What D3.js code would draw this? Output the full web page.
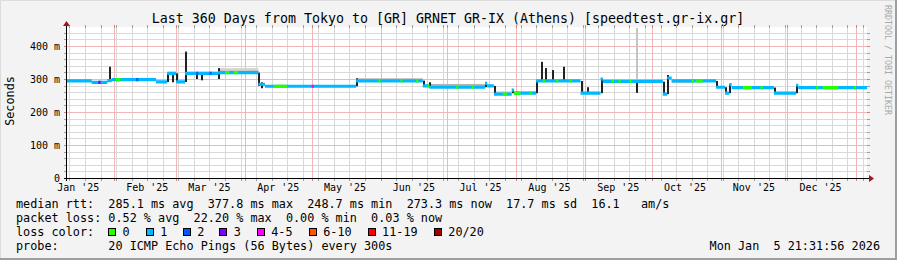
<!DOCTYPE html>
<html>
<head>
<meta charset="utf-8">
<script src="https://cdn.jsdelivr.net/npm/d3@7"></script>
<style>
  html, body { margin: 0; padding: 0; background: #f3f3f3; }
  svg text { font-family: 'DejaVu Sans Mono', monospace; white-space: pre; }
</style>
</head>
<body>
<div id="graph"></div>
<script>
// ---- values ----
const title = "Last 360 Days from Tokyo to [GR] GRNET GR-IX (Athens) [speedtest.gr-ix.gr]";
const yTicks = [0, 100, 200, 300, 400];
const yTickLabels = ["0", "100 m", "200 m", "300 m", "400 m"];

// median rtt (ms), held from each date until the next one
const medianSteps = [
  ["2025-01-10", 294], ["2025-01-22", 290], ["2025-01-29", 295], ["2025-01-31", 298],
  ["2025-02-20", 291], ["2025-02-25", 317], ["2025-03-01", 291], ["2025-03-05", 317],
  ["2025-03-20", 319], ["2025-04-07", 284], ["2025-04-10", 278], ["2025-05-21", 294],
  ["2025-06-20", 279], ["2025-06-23", 275], ["2025-07-18", 287], ["2025-07-19", 279],
  ["2025-07-22", 254], ["2025-07-30", 266], ["2025-07-31", 257], ["2025-08-10", 294],
  ["2025-08-30", 257], ["2025-09-08", 300], ["2025-09-09", 293], ["2025-10-06", 254],
  ["2025-10-08", 303], ["2025-10-10", 294], ["2025-10-30", 275], ["2025-11-03", 257],
  ["2025-11-05", 283], ["2025-11-06", 274], ["2025-11-25", 257], ["2025-12-05", 281],
  ["2025-12-06", 274]
];

// stretches where the loss colour is not "1" (index into lossColors)
const lossSegments = [
  ["2025-01-25", "2025-01-26", 3], ["2025-02-02", "2025-02-04", 0], ["2025-02-11", "2025-02-12", 2],
  ["2025-03-10", "2025-03-11", 2], ["2025-03-16", "2025-03-17", 2], ["2025-03-23", "2025-03-25", 0],
  ["2025-03-27", "2025-03-29", 0], ["2025-04-14", "2025-04-20", 0], ["2025-05-01", "2025-05-02", 4],
  ["2025-05-31", "2025-06-01", 0], ["2025-06-10", "2025-06-11", 0], ["2025-06-17", "2025-06-18", 0],
  ["2025-06-22", "2025-06-23", 0], ["2025-07-05", "2025-07-06", 0], ["2025-07-12", "2025-07-13", 0],
  ["2025-07-26", "2025-07-28", 0], ["2025-07-31", "2025-08-03", 0], ["2025-08-07", "2025-08-08", 0],
  ["2025-08-13", "2025-08-14", 0], ["2025-08-19", "2025-08-20", 0], ["2025-08-25", "2025-08-26", 0],
  ["2025-09-13", "2025-09-14", 0], ["2025-09-16", "2025-09-17", 0], ["2025-09-21", "2025-09-22", 0],
  ["2025-10-19", "2025-10-20", 0], ["2025-10-21", "2025-10-24", 0], ["2025-11-11", "2025-11-15", 0],
  ["2025-11-19", "2025-11-20", 0], ["2025-12-14", "2025-12-15", 0], ["2025-12-17", "2025-12-24", 0],
  ["2025-12-31", "2026-01-01", 0]
];

// smoke bands: start, end, low ms, high ms, grey
const smoke = [
  ["2025-02-25", "2025-03-01", 314, 322, "#c8c8c8"],
  ["2025-03-05", "2025-03-20", 314, 322, "#c8c8c8"],
  ["2025-03-20", "2025-04-07", 317, 333, "#d4d4d4"],
  ["2025-03-20", "2025-04-07", 317, 325, "#a8a8a8"],
  ["2025-05-21", "2025-06-20", 292, 302, "#b4b4b4"],
  ["2025-06-23", "2025-07-18", 273, 285, "#b4b4b4"],
  ["2025-07-22", "2025-07-30", 252, 262, "#c0c0c0"],
  ["2025-07-31", "2025-08-10", 255, 262, "#c0c0c0"],
  ["2025-09-09", "2025-10-06", 290, 298, "#c8c8c8"],
  ["2025-10-10", "2025-10-20", 288, 298, "#bbbbbb"]
];

// single-day smoke spikes: date, low ms, high ms, grey
const spikes = [
  ["2025-01-30", 296, 337, "#222"], ["2025-02-25", 291, 317, "#222"], ["2025-02-27", 290, 317, "#222"],
  ["2025-03-01", 291, 317, "#222"], ["2025-03-05", 291, 383, "#222"], ["2025-03-10", 300, 317, "#222"],
  ["2025-03-12", 296, 317, "#222"], ["2025-03-20", 300, 333, "#222"], ["2025-04-07", 279, 319, "#222"],
  ["2025-04-08", 272, 290, "#222"], ["2025-05-21", 278, 302, "#222"], ["2025-06-20", 279, 295, "#222"],
  ["2025-06-23", 275, 290, "#222"], ["2025-07-18", 275, 290, "#222"], ["2025-07-22", 254, 279, "#222"],
  ["2025-07-30", 257, 267, "#222"], ["2025-08-10", 257, 294, "#222"], ["2025-08-12", 294, 352, "#222"],
  ["2025-08-14", 294, 333, "#222"], ["2025-08-17", 294, 327, "#222"], ["2025-08-22", 294, 337, "#222"],
  ["2025-08-30", 257, 294, "#222"], ["2025-09-02", 257, 275, "#222"], ["2025-09-08", 257, 302, "#222"],
  ["2025-09-24", 294, 460, "#c4c4c4"], ["2025-09-24", 258, 294, "#222"], ["2025-10-06", 254, 292, "#222"],
  ["2025-10-08", 254, 312, "#222"], ["2025-10-30", 275, 294, "#222"], ["2025-11-03", 257, 275, "#222"],
  ["2025-11-05", 257, 284, "#222"], ["2025-11-25", 257, 274, "#222"], ["2025-12-05", 257, 282, "#222"]
];

const lossNames = ["0", "1", "2", "3", "4-5", "6-10", "11-19", "20/20"];
const lossColors = ["#26ff00", "#00b8ff", "#0059ff", "#7e00ff", "#ff00ff", "#ff5500", "#ff0000", "#a10000"];

const legendLines = [
  "median rtt:  285.1 ms avg  377.8 ms max  248.7 ms min  273.3 ms now  17.7 ms sd  16.1   am/s",
  "packet loss: 0.52 % avg  22.20 % max  0.00 % min  0.03 % now",
  "loss color:",
  "probe:       20 ICMP Echo Pings (56 Bytes) every 300s"
];
const stamp = "Mon Jan  5 21:31:56 2026";
const watermark = "RRDTOOL / TOBI OETIKER";

// ---- layout ----
const W = 897, H = 260;
const X0 = 67, X1 = 867, Y0 = 178, Y1 = 28;
const parse = d3.timeParse("%Y-%m-%d");
const tStart = new Date(2025, 0, 10, 21, 31, 56);
const tEnd = new Date(2026, 0, 5, 21, 31, 56);

const x = d3.scaleTime().domain([tStart, tEnd]).range([X0, X1]);
const y = d3.scaleLinear().domain([0, 454.5]).range([Y0, Y1]);

const svg = d3.select("#graph").append("svg")
  .attr("width", W).attr("height", H);

// canvas + frame
svg.append("rect").attr("width", W).attr("height", H).attr("fill", "#f3f3f3");
svg.append("path").attr("d", `M0.5,${H} V0.5 H${W}`).attr("stroke", "#dcdcdc").attr("fill", "none").attr("stroke-width", 1);
svg.append("path").attr("d", `M0,${H - 1} H${W - 1} V0`).attr("stroke", "#9e9e9e").attr("fill", "none").attr("stroke-width", 2);

// plot area
svg.append("rect").attr("x", X0).attr("y", Y1 - 1).attr("width", X1 - X0).attr("height", Y0 - Y1 + 1).attr("fill", "#fff");

// title
svg.append("text").attr("x", 448).attr("y", 23).attr("text-anchor", "middle")
  .attr("font-size", "13.3px").attr("fill", "#000").text(title);

// grid: 1px lines, with short ticks outside the plot
const grid = svg.append("g");
const minorCol = "#d9d9d9", majorCol = "#f2b6b6";
const minorY = d3.range(20, 455, 20).filter(v => v % 100 !== 0);
const majorY = yTicks.filter(v => v > 0);
const minorX = d3.timeWeek.range(tStart, tEnd);
const majorX = d3.timeMonth.range(tStart, tEnd);

function hGrid(vals, col, tick) {
  vals.forEach(v => {
    const yy = Math.round(y(v));
    grid.append("rect").attr("x", X0 - 2).attr("y", yy).attr("width", X1 - X0 + 4).attr("height", 1).attr("fill", col);
    grid.append("rect").attr("x", X0 - 3).attr("y", yy).attr("width", 3).attr("height", 1).attr("fill", tick);
    grid.append("rect").attr("x", X1).attr("y", yy).attr("width", 3).attr("height", 1).attr("fill", tick);
  });
}
function vGrid(vals, col, tick) {
  vals.forEach(d => {
    const xx = Math.round(x(d));
    grid.append("rect").attr("x", xx).attr("y", Y1 - 2).attr("width", 1).attr("height", Y0 - Y1 + 2).attr("fill", col);
    grid.append("rect").attr("x", xx).attr("y", Y1 - 3).attr("width", 1).attr("height", 3).attr("fill", tick);
    grid.append("rect").attr("x", xx).attr("y", Y0).attr("width", 1).attr("height", 3).attr("fill", tick);
  });
}
vGrid(minorX.filter(d => d.getDate() !== 1), minorCol, "#a0a0a0");
hGrid(minorY, minorCol, "#a0a0a0");
vGrid(majorX, majorCol, "#d88080");
hGrid(majorY, majorCol, "#d88080");

// smoke
const plot = svg.append("g");
plot.selectAll(".smoke").data(smoke).enter().append("rect")
  .attr("class", "smoke")
  .attr("x", d => x(parse(d[0]))).attr("width", d => x(parse(d[1])) - x(parse(d[0])))
  .attr("y", d => y(d[3])).attr("height", d => y(d[2]) - y(d[3]))
  .attr("fill", d => d[4]);

plot.selectAll(".spike").data(spikes).enter().append("rect")
  .attr("class", "spike")
  .attr("x", d => Math.round(x(parse(d[0])))).attr("width", 2)
  .attr("y", d => y(Math.min(d[2], 454.5))).attr("height", d => y(d[1]) - y(Math.min(d[2], 454.5)))
  .attr("fill", d => d[3]);

// median band, coloured by loss
const med = medianSteps.map(d => ({t: parse(d[0]), v: d[1]}));
med[0].t = tStart;
med.push({t: tEnd, v: med[med.length - 1].v});

const band = d3.area()
  .x(d => x(d.t))
  .y0(d => y(d.v) + 1.6)
  .y1(d => y(d.v) - 1.6)
  .curve(d3.curveStepAfter);

plot.append("path").datum(med).attr("d", band).attr("fill", lossColors[1]);

const defs = svg.append("defs");
lossSegments.forEach((s, i) => {
  const x0 = x(parse(s[0])), x1 = x(parse(s[1]));
  defs.append("clipPath").attr("id", "loss" + i)
    .append("rect").attr("x", x0).attr("y", 0).attr("width", x1 - x0).attr("height", H);
  plot.append("path").datum(med).attr("d", band)
    .attr("fill", lossColors[s[2]]).attr("clip-path", `url(#loss${i})`);
});

// axes with arrows
const axisCol = "#000", arrowCol = "#a01818";
svg.append("rect").attr("x", X0 - 3).attr("y", Y0).attr("width", X1 - X0 + 5).attr("height", 1).attr("fill", axisCol);
svg.append("rect").attr("x", X0 - 1).attr("y", Y1 - 3).attr("width", 1).attr("height", Y0 - Y1 + 6).attr("fill", axisCol);
svg.append("path").attr("d", `M${X1 + 2},${Y0 - 3} L${X1 + 7},${Y0 + 0.5} L${X1 + 2},${Y0 + 4} Z`).attr("fill", arrowCol);
svg.append("path").attr("d", `M${X0 - 4},${Y1 - 2} L${X0 - 0.5},${Y1 - 7} L${X0 + 3},${Y1 - 2} Z`).attr("fill", arrowCol);

// y labels
svg.selectAll(".ylab").data(yTicks).enter().append("text")
  .attr("class", "ylab")
  .attr("x", 60).attr("y", d => y(d) + 3.6)
  .attr("text-anchor", "end").attr("font-size", "10px")
  .text((d, i) => yTickLabels[i]);

// x labels sit mid-month (15 days after the 1st)
const fmt = d3.timeFormat("%b '%y");
const labelDates = majorX.concat([d3.timeMonth.floor(tStart)])
  .map(d => d3.timeDay.offset(d, 15))
  .filter(d => d >= tStart && d <= tEnd);
svg.selectAll(".xlab").data(labelDates).enter().append("text")
  .attr("class", "xlab")
  .attr("x", d => x(d)).attr("y", 191)
  .attr("text-anchor", "middle").attr("font-size", "10px")
  .text(d => fmt(d));

// axis title
svg.append("text").attr("transform", "translate(14,101) rotate(-90)")
  .attr("text-anchor", "middle").attr("font-size", "11.8px").text("Seconds");

// watermark
svg.append("text").attr("transform", "translate(885,5) rotate(90)")
  .attr("font-size", "8.3px").attr("fill", "#a8a8a8").text(watermark);

// legend
const legendY = [208, 222, 236, 250];
legendLines.forEach((line, i) => {
  svg.append("text").attr("x", 16).attr("y", legendY[i])
    .attr("xml:space", "preserve")
    .attr("font-size", "11.8px").text(line);
});
const swatchX = [108, 145.7, 182.7, 219.3, 256.7, 308.7, 367.6, 433.8];
lossNames.forEach((n, i) => {
  svg.append("rect").attr("x", Math.round(swatchX[i]) + 0.5).attr("y", 228.5).attr("width", 7).attr("height", 7)
    .attr("fill", lossColors[i]).attr("stroke", "#000");
  svg.append("text").attr("x", swatchX[i] + 14.5).attr("y", 236)
    .attr("font-size", "11.8px").text(n);
});
svg.append("text").attr("x", 880).attr("y", 250).attr("text-anchor", "end")
  .attr("xml:space", "preserve")
  .attr("font-size", "11.8px").text(stamp);
</script>
</body>
</html>
